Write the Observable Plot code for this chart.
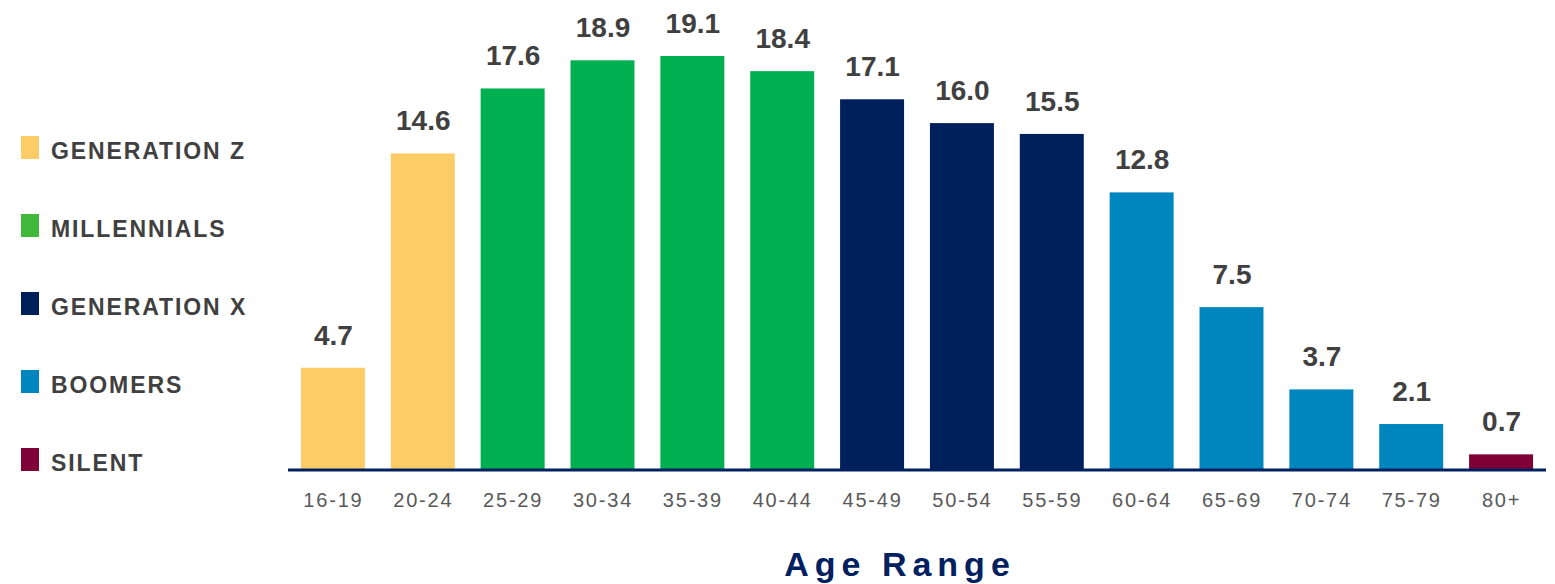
<!DOCTYPE html>
<html>
<head>
<meta charset="utf-8">
<script src="https://cdn.jsdelivr.net/npm/d3@7"></script>
<script src="https://cdn.jsdelivr.net/npm/@observablehq/plot@0.6"></script>
<style>
  body { margin: 0; background: #fff; font-family: "Liberation Sans", Arial, sans-serif; }
  #chart { position: relative; width: 1555px; height: 584px; overflow: hidden; }
  #chart > svg { position: absolute; left: 0; top: 0; }
  #chart [aria-label="x-axis tick label"] text { letter-spacing: 1.8px; }
  #legend { position: absolute; left: 21px; top: 108.5px; }
  .row { display: flex; align-items: center; height: 78px; }
  .swatch { width: 18px; height: 23px; flex: none; }
  .name { margin-left: 12px; position: relative; top: 3.5px; font-size: 23px; font-weight: bold;
          color: #404040; letter-spacing: 1.9px; white-space: nowrap; line-height: 1; }
  #xtitle { position: absolute; left: 897px; top: 547.2px; transform: translateX(-50%);
            padding-left: 6px; font-size: 34px; line-height: 1; font-weight: bold;
            color: #002060; letter-spacing: 6px; white-space: nowrap; }
</style>
</head>
<body>
<div id="chart"></div>
<script>
// Age bands and their values
const ages = ["16-19", "20-24", "25-29", "30-34", "35-39", "40-44", "45-49",
              "50-54", "55-59", "60-64", "65-69", "70-74", "75-79", "80+"];
const values = [4.7, 14.6, 17.6, 18.9, 19.1, 18.4, 17.1, 16.0, 15.5, 12.8, 7.5, 3.7, 2.1, 0.7];
const ageGeneration = ["GENERATION Z", "GENERATION Z",
                       "MILLENNIALS", "MILLENNIALS", "MILLENNIALS", "MILLENNIALS",
                       "GENERATION X", "GENERATION X", "GENERATION X",
                       "BOOMERS", "BOOMERS", "BOOMERS", "BOOMERS",
                       "SILENT"];

// Generations, bar colours and legend swatch colours
const generations = ["GENERATION Z", "MILLENNIALS", "GENERATION X", "BOOMERS", "SILENT"];
const barColors = ["#FECC66", "#00AF50", "#00205B", "#0086BF", "#7E0037"];
const swatchColors = ["#FECC66", "#40B93A", "#00205B", "#0086BF", "#7E0037"];
const axisTitle = "Age Range";

const rows = ages.map((age, i) => ({age, value: values[i], generation: ageGeneration[i]}));

const font = '"Liberation Sans", Arial, sans-serif';

const plot = Plot.plot({
  width: 1555,
  height: 530,
  marginLeft: 288,
  marginRight: 9,
  marginTop: 36.5,
  marginBottom: 60.5,
  style: {fontFamily: font, background: "transparent", overflow: "visible"},
  x: {domain: ages, paddingInner: 0.288, paddingOuter: 0.144, round: false, label: null},
  y: {domain: [0, 20], axis: null},
  color: {domain: generations, range: barColors},
  marks: [
    Plot.barY(rows, {x: "age", y: "value", fill: "generation"}),
    Plot.ruleY([0], {stroke: "#002060", strokeWidth: 3}),
    Plot.text(rows, {
      x: "age", y: "value", text: d => d.value.toFixed(1),
      lineAnchor: "bottom", dy: -23.5,
      fontSize: 28, fontWeight: "bold", fill: "#404040"
    }),
    Plot.axisX({tickSize: 0, tickPadding: 23, fontSize: 20, fill: "#595959", label: null})
  ]
});

const chart = document.getElementById("chart");
chart.appendChild(plot);

// Legend on the left, one row per generation
const legend = document.createElement("div");
legend.id = "legend";
generations.forEach((g, i) => {
  const row = document.createElement("div");
  row.className = "row";
  const sw = document.createElement("div");
  sw.className = "swatch";
  sw.style.background = swatchColors[i];
  const name = document.createElement("div");
  name.className = "name";
  name.textContent = g;
  row.append(sw, name);
  legend.appendChild(row);
});
chart.appendChild(legend);

// Axis title below the chart
const title = document.createElement("div");
title.id = "xtitle";
title.textContent = axisTitle;
chart.appendChild(title);
</script>
</body>
</html>
